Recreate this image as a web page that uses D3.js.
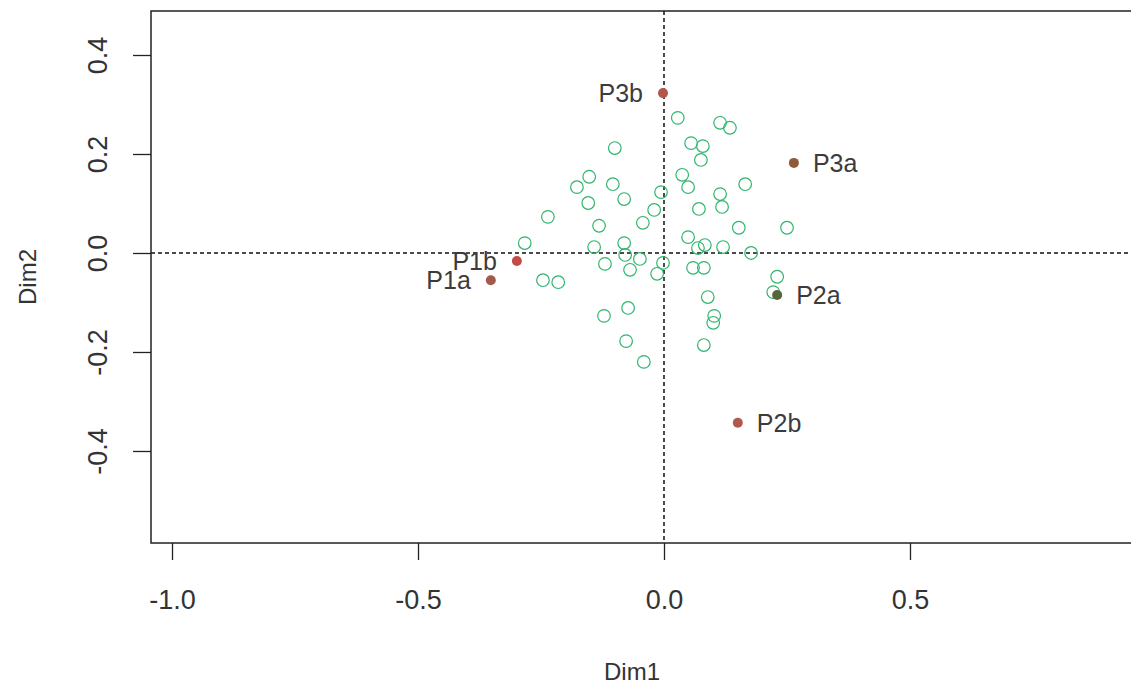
<!DOCTYPE html>
<html>
<head>
<meta charset="utf-8">
<script src="https://cdn.jsdelivr.net/npm/d3@7"></script>
<style>
  html, body { margin: 0; padding: 0; background: #fff; }
  svg { display: block; font-family: "Liberation Sans", Arial, sans-serif; }
</style>
</head>
<body>
<svg width="1131" height="693"></svg>
<script>
// column points (green open circles)
const colDim1 = [-0.100, -0.152, -0.177, -0.104, -0.081, -0.154, -0.006, -0.020, -0.043, -0.236,
                 -0.132, -0.283, -0.142, -0.081, 0.028, 0.114, 0.134, 0.055, 0.079, 0.075,
                 0.037, 0.049, 0.165, 0.114, 0.118, 0.071, 0.152, 0.250, 0.049, 0.083,
                 0.069, 0.120, 0.177, -0.079, -0.049, -0.120, -0.069, -0.002, -0.014, -0.246,
                 -0.215, -0.122, -0.073, -0.077, -0.041, 0.059, 0.081, 0.230, 0.222, 0.089,
                 0.102, 0.100, 0.081];
const colDim2 = [0.212, 0.154, 0.133, 0.139, 0.109, 0.101, 0.123, 0.087, 0.061, 0.073,
                 0.055, 0.020, 0.012, 0.020, 0.273, 0.263, 0.253, 0.222, 0.216, 0.188,
                 0.158, 0.133, 0.139, 0.119, 0.093, 0.089, 0.051, 0.051, 0.032, 0.016,
                 0.010, 0.012, 0.000, -0.004, -0.012, -0.022, -0.034, -0.020, -0.042, -0.055,
                 -0.059, -0.127, -0.111, -0.178, -0.220, -0.030, -0.030, -0.048, -0.079, -0.089,
                 -0.127, -0.141, -0.186];

// labelled row points
const rowNames = ["P3b", "P3a", "P1b", "P1a", "P2a", "P2b"];
const rowDim1 = [-0.002, 0.264, -0.299, -0.352, 0.230, 0.150];
const rowDim2 = [0.323, 0.182, -0.016, -0.055, -0.085, -0.343];

const xTicks = [-1.0, -0.5, 0.0, 0.5];
const yTicks = [-0.4, -0.2, 0.0, 0.2, 0.4];

const rowColor = {P3b: "#b4564a", P3a: "#8e5a3a", P1b: "#c44a48", P1a: "#a25a4e", P2a: "#56663a", P2b: "#b2574c"};
const labelLeft = {P3b: true, P1b: true, P1a: true};

const svg = d3.select("svg");
const plot = {left: 151, top: 11, right: 1140, bottom: 543};

const x = d3.scaleLinear().domain([-1.0427, 0.9675]).range([plot.left, plot.right]);
const y = d3.scaleLinear().domain([-0.5859, 0.4889]).range([plot.bottom, plot.top]);
const fmt = d => d.toFixed(1);

// reference lines
svg.append("line")
    .attr("x1", plot.left).attr("x2", plot.right)
    .attr("y1", y(0)).attr("y2", y(0))
    .attr("stroke", "#111").attr("stroke-width", 1.5).attr("stroke-dasharray", "4,3");
svg.append("line")
    .attr("x1", x(0)).attr("x2", x(0))
    .attr("y1", plot.top).attr("y2", plot.bottom)
    .attr("stroke", "#111").attr("stroke-width", 1.5).attr("stroke-dasharray", "4,3");

// green circles
const cols = colDim1.map((d, i) => ({x: d, y: colDim2[i]}));
svg.append("g").selectAll("circle").data(cols).enter()
    .append("circle")
    .attr("cx", d => x(d.x))
    .attr("cy", d => y(d.y))
    .attr("r", 6.3)
    .attr("fill", "none")
    .attr("stroke", "#2fb56c")
    .attr("stroke-width", 1.2);

// row points + labels
const rows = rowNames.map((n, i) => ({name: n, x: rowDim1[i], y: rowDim2[i]}));
const rg = svg.append("g");
rg.selectAll("circle").data(rows).enter()
    .append("circle")
    .attr("cx", d => x(d.x))
    .attr("cy", d => y(d.y))
    .attr("r", 5)
    .attr("fill", d => rowColor[d.name]);
rg.selectAll("text").data(rows).enter()
    .append("text")
    .attr("x", d => x(d.x) + (labelLeft[d.name] ? -20 : 19))
    .attr("y", d => y(d.y))
    .attr("dy", "0.35em")
    .attr("text-anchor", d => labelLeft[d.name] ? "end" : "start")
    .attr("font-size", 25)
    .attr("fill", "#3c3c3c")
    .text(d => d.name);

// axes
const xAxis = svg.append("g")
    .attr("transform", `translate(0,${plot.bottom})`)
    .call(d3.axisBottom(x).tickValues(xTicks).tickFormat(fmt).tickSize(17));
const yAxis = svg.append("g")
    .attr("transform", `translate(${plot.left},0)`)
    .call(d3.axisLeft(y).tickValues(yTicks).tickFormat(fmt).tickSize(18));

[xAxis, yAxis].forEach(g => {
    g.select(".domain").remove();
    g.selectAll("line").attr("stroke", "#222").attr("stroke-width", 1.3);
    g.selectAll("text").attr("font-size", 27).attr("fill", "#333")
        .attr("font-family", "Liberation Sans, Arial, sans-serif");
});
xAxis.selectAll("text").attr("y", 57).attr("dy", "0.35em");
yAxis.selectAll("text")
    .attr("x", 0).attr("y", 0)
    .attr("dy", "0.35em")
    .attr("text-anchor", "middle")
    .attr("transform", "translate(-53,0) rotate(-90)");

// frame
svg.append("rect")
    .attr("x", plot.left).attr("y", plot.top)
    .attr("width", plot.right - plot.left).attr("height", plot.bottom - plot.top)
    .attr("fill", "none").attr("stroke", "#222").attr("stroke-width", 1.5);

// axis titles
svg.append("text")
    .attr("x", 632).attr("y", 672)
    .attr("dy", "0.35em")
    .attr("text-anchor", "middle")
    .attr("font-size", 24).attr("fill", "#333")
    .text("Dim1");
svg.append("text")
    .attr("transform", `translate(28,${(plot.top + plot.bottom) / 2}) rotate(-90)`)
    .attr("dy", "0.35em")
    .attr("text-anchor", "middle")
    .attr("font-size", 24).attr("fill", "#333")
    .text("Dim2");
</script>
</body>
</html>
